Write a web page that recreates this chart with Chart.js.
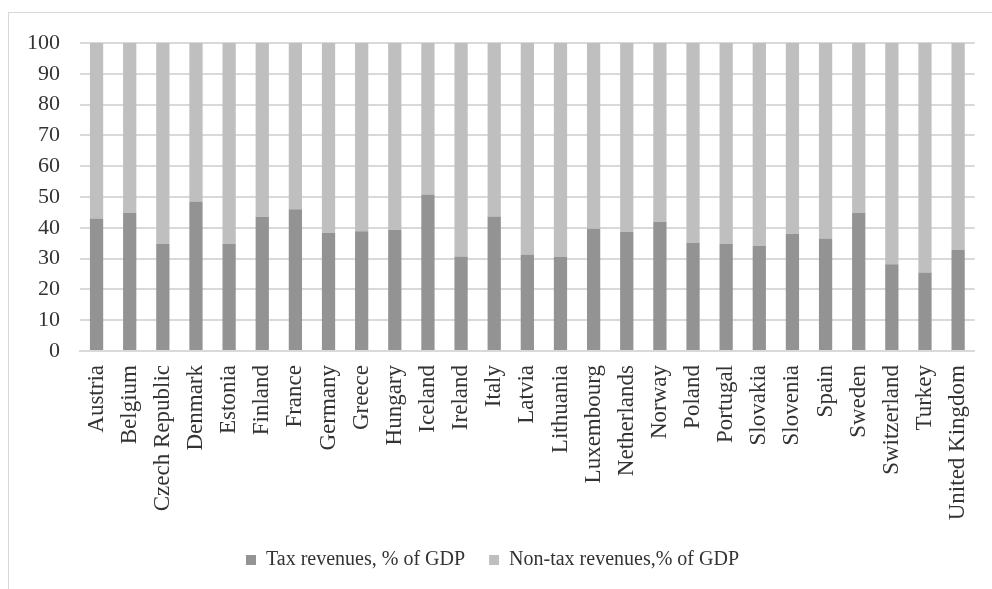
<!DOCTYPE html>
<html>
<head>
<meta charset="utf-8">
<script src="https://cdn.jsdelivr.net/npm/chart.js@4"></script>
<style>
  html, body { margin: 0; padding: 0; background: #fff; }
  #wrap { position: relative; width: 992px; height: 589px; overflow: hidden; }
  #frame { position: absolute; left: 8px; top: 12px; width: 1000px; height: 600px; border: 1px solid #d9d9d9; box-sizing: border-box; }
  #revenueChart { position: absolute; left: 0; top: 0; }
</style>
</head>
<body>
<div id="wrap">
  <div id="frame"></div>
  <canvas id="revenueChart" width="992" height="589"></canvas>
</div>
<script>
const countries = ['Austria', 'Belgium', 'Czech Republic', 'Denmark', 'Estonia', 'Finland', 'France',
  'Germany', 'Greece', 'Hungary', 'Iceland', 'Ireland', 'Italy', 'Latvia', 'Lithuania', 'Luxembourg',
  'Netherlands', 'Norway', 'Poland', 'Portugal', 'Slovakia', 'Slovenia', 'Spain', 'Sweden',
  'Switzerland', 'Turkey', 'United Kingdom'];
const taxRevenues = [43.0, 44.9, 34.8, 48.5, 34.8, 43.6, 46.0, 38.4, 38.9, 39.4, 50.8, 30.7, 43.7,
  31.3, 30.5, 39.7, 38.7, 42.0, 35.1, 34.7, 34.2, 38.1, 36.5, 44.9, 28.2, 25.5, 32.9];
const nonTaxRevenues = [57.0, 55.1, 65.2, 51.5, 65.2, 56.4, 54.0, 61.6, 61.1, 60.6, 49.2, 69.3, 56.3,
  68.7, 69.5, 60.3, 61.3, 58.0, 64.9, 65.3, 65.8, 61.9, 63.5, 55.1, 71.8, 74.5, 67.1];
const yTicks = [0, 10, 20, 30, 40, 50, 60, 70, 80, 90, 100];

const serif = 'Liberation Serif';
const revenueChart = document.getElementById('revenueChart');

new Chart(revenueChart, {
  type: 'bar',
  data: {
    labels: countries,
    datasets: [{
      label: 'Tax revenues, % of GDP',
      data: taxRevenues,
      backgroundColor: '#939393',
      categoryPercentage: 1,
      barPercentage: 0.4
    }, {
      label: 'Non-tax revenues,% of GDP',
      data: nonTaxRevenues,
      backgroundColor: '#bfbfbf',
      categoryPercentage: 1,
      barPercentage: 0.4
    }]
  },
  options: {
    responsive: false,
    animation: false,
    layout: { padding: { left: 8, right: 15, top: 43, bottom: 9 } },
    plugins: {
      tooltip: { enabled: false },
      legend: {
        position: 'bottom',
        maxHeight: 60,
        labels: {
          font: { family: serif, size: 20 },
          color: '#333',
          boxWidth: 10,
          boxHeight: 10,
          padding: 24
        }
      }
    },
    scales: {
      x: {
        stacked: true,
        // room for the long rotated names
        afterFit: scale => { scale.height = 175; },
        grid: { display: false },
        border: { display: true, color: '#d9d9d9', width: 2 },
        ticks: {
          font: { family: serif, size: 23 },
          color: '#333',
          minRotation: 90,
          maxRotation: 90,
          autoSkip: false,
          padding: 6
        }
      },
      y: {
        stacked: true,
        min: 0,
        max: 100,
        afterBuildTicks: scale => { scale.ticks = yTicks.map(v => ({ value: v })); },
        afterFit: scale => { scale.width = 72; },
        grid: { color: '#d9d9d9', lineWidth: 2, drawTicks: false },
        border: { display: false },
        ticks: {
          font: { family: serif, size: 22 },
          color: '#333',
          autoSkip: false,
          padding: 20
        }
      }
    }
  }
});
</script>
</body>
</html>
